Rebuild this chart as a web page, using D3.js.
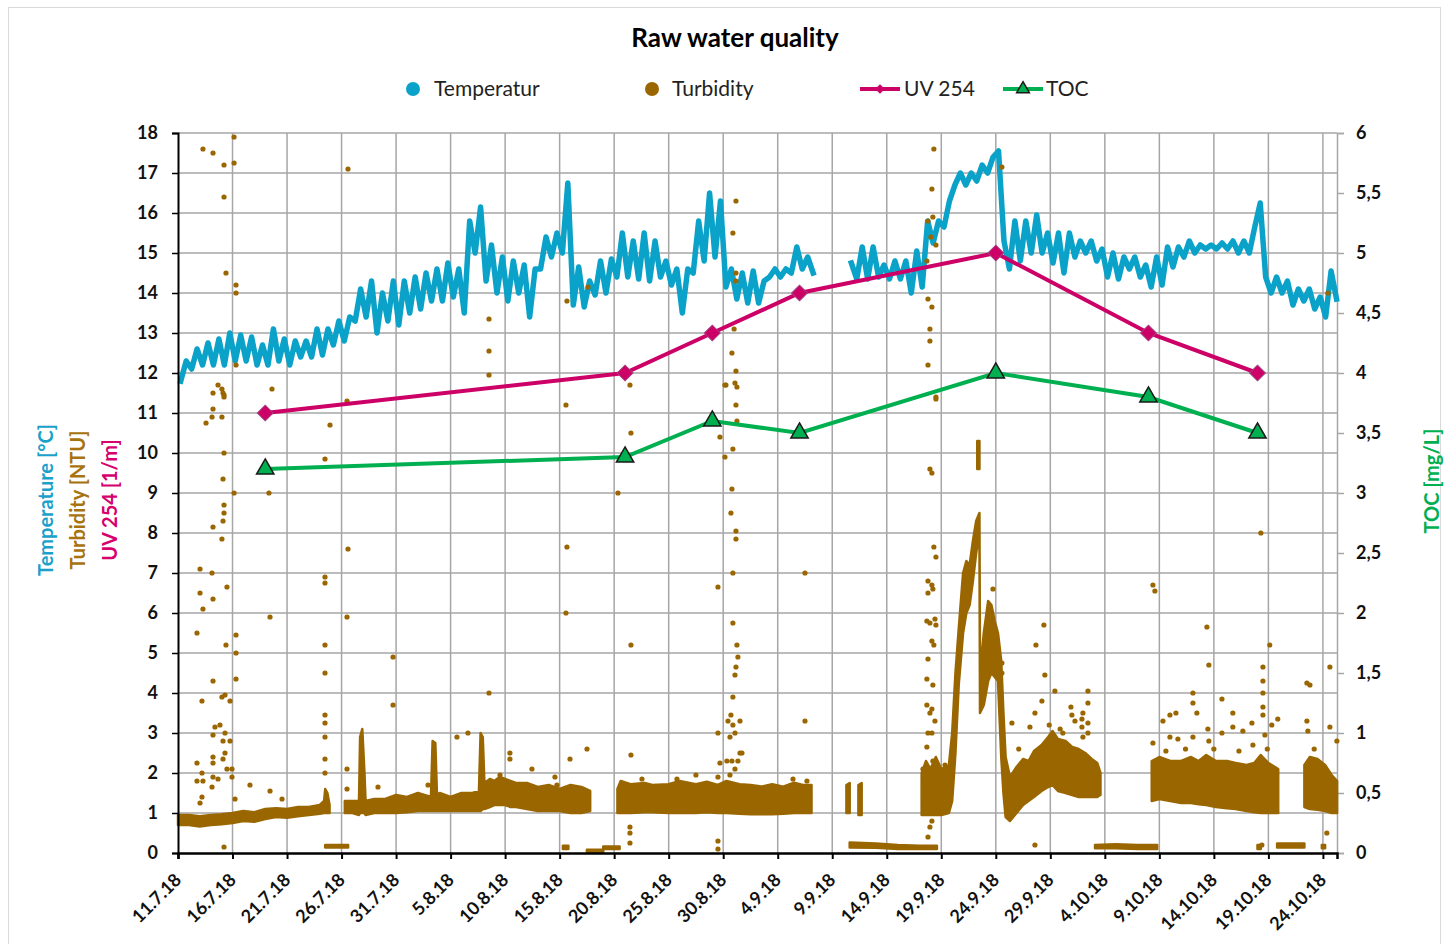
<!DOCTYPE html>
<html>
<head>
<meta charset="utf-8">
<script src="https://cdn.jsdelivr.net/npm/d3@7"></script>
<style>
  body { margin: 0; background: #fff; }
  svg { display: block; font-family: Lato, "Open Sans", sans-serif; }
  .grid line { stroke: #a6a6a6; stroke-width: 1.5; }
  .axis text { font-family: Lato, sans-serif; font-weight: bold; font-size: 18px; fill: #111; }
</style>
</head>
<body>
<svg id="chart" width="1445" height="944"></svg>
<script>
"use strict";

// x tick labels (every 5 days)
const xTickDates = ["2018-07-11","2018-07-16","2018-07-21","2018-07-26","2018-07-31","2018-08-05",
  "2018-08-10","2018-08-15","2018-08-20","2018-08-25","2018-08-30","2018-09-04","2018-09-09",
  "2018-09-14","2018-09-19","2018-09-24","2018-09-29","2018-10-04","2018-10-09","2018-10-14",
  "2018-10-19","2018-10-24"];
const leftTicks = [0,1,2,3,4,5,6,7,8,9,10,11,12,13,14,15,16,17,18];
const rightTicks = [0,0.5,1,1.5,2,2.5,3,3.5,4,4.5,5,5.5,6];

// Temperature: one reading every 12 h starting 11.7.18 06:00 (morning / evening)
const tempValues = [
  11.8,12.3, 12.1,12.6, 12.2,12.75, 12.2,12.85, 12.2,13.0, 12.3,12.95, 12.3,12.9,
  12.2,12.7, 12.2,13.1, 12.3,12.85, 12.2,12.8, 12.4,12.8, 12.4,13.1, 12.45,13.1,
  12.7,13.3, 12.8,13.4, 13.3,14.1, 13.4,14.3, 13.0,14.0, 13.3,14.3, 13.2,14.3,
  13.5,14.4, 13.6,14.5, 13.8,14.6, 13.8,14.75, 13.9,14.6, 13.5,15.8, 15.0,16.15,
  14.3,15.2, 14.0,14.9, 13.8,14.8, 14.0,14.7, 13.4,14.6, 14.6,15.4, 14.9,15.5,
  15.0,16.75, 13.7,14.65, 13.65,14.3, 13.95,14.8, 14.0,14.85, 14.4,15.5, 14.4,15.3,
  14.35,15.5, 14.3,15.3, 14.4,14.8, 14.2,14.6, 13.5,14.6, 14.5,15.8, 14.8,16.5,
  14.9,16.3, 14.15,14.6, 13.85,14.5, 13.75,14.55, 13.75,14.3, 14.4,14.6, 14.4,14.6,
  14.5,15.15, 14.6,14.9, 14.5,null, null,null, null,null, null,14.75, 14.35,15.15,
  14.35,15.15, 14.4,14.7, 14.35,14.8, 14.35,14.8, 14.0,15.05, 14.15,15.8, 15.25,15.8,
  15.65,16.3, 16.7,17.0, 16.7,17.0, 16.8,17.2, 17.0,17.4, 17.55,15.3, 14.6,15.8,
  14.8,15.8, 15.0,15.95, 15.0,15.5, 14.75,15.5, 14.5,15.5, 14.9,15.3, 15.0,15.3,
  14.8,15.1, 14.4,15.0, 14.35,14.9, 14.6,14.9, 14.4,14.7, 14.15,14.9, 14.2,15.15,
  14.65,15.15, 14.9,15.3, 15.0,15.2, 15.1,15.2, 15.1,15.25, 15.1,15.3, 15.0,15.3,
  15.0,15.65, 16.25,14.4, 14.0,14.4, 14.0,14.3, 13.7,14.1, 13.8,14.1, 13.6,13.9,
  13.4,14.55, 13.85
];

// Turbidity: dense logger band [day after 11.7.18, low, high], null = break
const turbBand = [
  [0,0.7,0.95],[1,0.7,0.95],[2,0.66,0.92],[3,0.7,0.95],[4,0.72,0.97],[5,0.75,1.0],[6,0.8,1.05],
  [7,0.78,1.02],[8,0.85,1.1],[9,0.9,1.12],[10,0.88,1.1],[11,0.92,1.15],[12,0.95,1.15],[13,0.98,1.2],
  [13.4,1.0,1.3],[13.5,1.0,1.6],[13.7,1.0,1.5],[13.9,1.0,1.2], null,
  [13.5,0.14,0.2],[15.6,0.14,0.2], null,
  [15.3,1.0,1.3],[16.0,1.0,1.3],[16.6,0.95,1.3],[16.7,1.0,2.9],[16.9,1.0,3.1],[17.1,1.0,2.0],
  [17.2,0.95,1.3],[18,1.0,1.35],[19,1.0,1.35],[20,1.0,1.45],[21,1.02,1.4],[22,1.05,1.5],
  [23.2,1.05,1.4],[23.35,1.05,2.8],[23.6,1.05,2.75],[23.75,1.05,1.45],[24,1.05,1.5],[25,1.05,1.4],
  [26,1.05,1.5],[27,1.05,1.5],[27.6,1.05,1.55],[27.75,1.05,3.0],[27.95,1.1,2.9],[28.1,1.1,1.75],
  [28.6,1.15,1.85],[29,1.2,1.8],[29.5,1.2,1.9],[30,1.2,1.85],[30.5,1.15,1.8],[31,1.15,1.75],
  [32,1.1,1.75],[33,1.05,1.65],[34,1.05,1.7],[35,1.05,1.6],[36,1.0,1.7],[37,1.0,1.65],
  [37.8,1.05,1.55], null,
  [35.3,0.1,0.18],[35.8,0.1,0.18], null,
  [37.5,0.03,0.08],[39.0,0.03,0.08], null,
  [39.0,0.1,0.16],[40.5,0.1,0.16], null,
  [40.3,1.0,1.6],[40.6,1.0,1.8],[41.5,1.0,1.72],[42.8,1.02,1.75],[43.5,1.02,1.7],[45,1.0,1.72],
  [46,1.0,1.8],[47.5,1.0,1.72],[48.5,1.02,1.78],[49.5,1.0,1.7],[50.3,1.0,1.8],[51.5,0.98,1.72],
  [52.5,0.97,1.7],[53.5,0.97,1.66],[54.5,0.97,1.72],[55.5,0.98,1.66],[56.5,1.0,1.76],[57.3,1.0,1.7],
  [58.1,1.0,1.7], null,
  [61.3,1.0,1.7],[61.6,1.0,1.75], null,
  [62.4,0.95,1.7],[62.7,0.95,1.75], null,
  [61.6,0.14,0.26],[64,0.13,0.24],[66,0.1,0.2],[68,0.1,0.18],[69.6,0.1,0.18], null,
  [68.2,0.95,2.0],[68.6,0.95,2.3],[69,0.95,2.1],[69.5,0.95,2.4],[70,0.95,2.1],[70.7,1.0,2.2],
  [71.0,1.3,3.0],[71.3,2.5,4.5],[71.6,4.2,5.6],[72.0,5.5,7.0],[72.3,6.0,7.3],[72.6,6.2,7.2],
  [72.9,6.8,7.8],[73.2,7.5,8.3],[73.5,8.0,8.5],[73.55,3.5,4.5],[73.9,3.7,5.5],[74.3,4.3,6.3],
  [74.6,4.5,6.2],[74.9,4.4,5.8],[75.2,4.3,5.5],[75.5,2.4,4.8],[75.7,1.5,3.5],[75.9,0.9,2.4],
  [76.3,0.8,1.9],[76.9,1.0,2.15],[77.5,1.2,2.35],[78.0,1.3,2.3],[78.5,1.4,2.55],[79.2,1.55,2.7],
  [79.8,1.65,2.9],[80.2,1.7,3.05],[80.7,1.55,2.85],[81.4,1.5,2.8],[82.0,1.45,2.65],
  [82.6,1.4,2.6],[83.2,1.4,2.5],[83.8,1.4,2.35],[84.3,1.4,2.25],[84.6,1.45,2.0], null,
  [73.3,9.6,10.3],[73.5,9.6,10.3], null,
  [84.1,0.12,0.2],[86,0.12,0.22],[88,0.1,0.2],[89.8,0.1,0.2], null,
  [89.3,1.3,2.3],[90.0,1.35,2.4],[91.0,1.3,2.3],[92.0,1.25,2.3],[92.9,1.25,2.4],[93.6,1.22,2.3],
  [94.3,1.2,2.45],[95.2,1.15,2.3],[96.2,1.12,2.3],[97.0,1.1,2.25],[98.0,1.05,2.2],[98.7,1.02,2.25],
  [99.3,1.0,2.45],[100.0,1.0,2.25],[100.9,1.0,2.1], null,
  [99.0,0.1,0.2],[99.3,0.1,0.2], null,
  [100.8,0.14,0.24],[103.3,0.14,0.24], null,
  [104.9,0.12,0.2],[105.2,0.12,0.2], null,
  [103.3,1.15,2.2],[103.8,1.1,2.4],[104.5,1.08,2.35],[105.2,1.05,2.2],[105.8,1.0,1.95],[106.3,1.0,1.8]
];

// Turbidity: scattered single readings [day after 11.7.18, NTU]
const turbSpikes = [
  [2.29,17.6],[3.21,17.5],[4.22,17.2],[5.14,17.9],[5.14,17.25],[4.22,16.4],[4.4,14.5],[5.32,14.2],
  [5.32,14.0],[5.32,12.2],[3.67,11.7],[3.21,11.5],[4.13,11.5],[4.03,11.6],[4.22,11.45],[4.22,11.4],
  [3.21,11.1],[4.03,10.9],[3.12,10.9],[2.57,10.75],[4.22,10.0],[4.13,9.35],[5.14,9.0],[4.22,8.7],
  [4.22,8.5],[4.13,8.3],[3.21,8.15],[4.03,7.85],[2.02,7.1],[3.12,7.0],[4.49,6.65],[2.02,6.5],
  [3.21,6.35],[2.29,6.1],[1.74,5.5],[5.32,5.45],[4.4,5.2],[5.32,5.0],[5.32,4.35],[3.21,4.3],
  [2.2,3.8],[4.77,3.8],[4.03,3.9],[4.31,3.95],[3.85,3.2],[3.39,3.15],[3.21,2.95],[4.31,3.0],
  [4.13,2.8],[4.77,2.8],[3.21,2.4],[4.31,2.5],[4.13,2.35],[3.21,2.25],[1.74,2.25],[4.49,2.1],
  [4.95,2.1],[2.2,2.0],[2.29,1.8],[1.74,1.8],[3.21,1.9],[3.67,1.85],[4.95,1.9],[3.12,1.65],
  [2.2,1.4],[2.02,1.25],[5.23,1.35],[6.6,1.7],[8.44,1.55],[9.54,1.35],[4.22,0.15],
  [8.62,11.6],[8.34,9.0],[8.44,5.9],[15.59,17.1],[15.5,11.3],[13.94,10.7],[13.48,9.85],[15.59,7.6],
  [13.48,6.9],[13.48,6.75],[15.5,5.9],[13.48,5.2],[19.72,4.9],[13.48,4.5],[13.48,3.45],[13.48,3.25],
  [13.48,2.9],[13.48,2.35],[13.48,2.0],[15.5,2.1],[15.5,1.6],[18.34,1.65],[19.72,3.7],[25.58,2.9],
  [26.59,3.0],[28.52,4.0],[28.52,13.35],[28.52,12.55],[28.52,11.95],[30.44,2.5],[30.44,2.35],
  [32.46,2.1],[34.57,1.9],[35.95,2.35],[37.51,2.6],[29.53,1.95],[34.75,1.7],[22.93,1.7],[35.58,11.2],
  [35.67,7.65],[35.58,6.0],[35.67,13.8],[37.6,14.15],
  [41.45,11.7],[41.54,10.5],[40.35,9.0],[41.54,5.2],[41.54,2.45],[41.45,0.65],[41.45,0.5],
  [41.45,0.25],[42.55,1.85],[45.76,1.85],[47.5,1.95],
  [50.25,11.7],[51.08,11.75],[51.26,11.65],[51.17,11.2],[51.26,10.8],[49.7,10.4],[50.89,10.1],
  [50.16,9.9],[50.8,9.1],[50.71,8.5],[51.17,8.05],[51.17,7.85],[50.89,7.0],[49.52,6.65],[50.89,5.75],
  [51.26,5.2],[51.35,4.9],[51.17,4.65],[51.08,4.45],[51.17,16.3],[50.89,15.5],[51.17,14.5],
  [51.17,14.3],[51.0,13.1],[50.8,12.5],[51.17,12.05],[50.16,11.7],[50.89,3.9],[50.71,3.45],
  [51.54,3.3],[50.89,3.2],[50.44,3.3],[50.62,2.9],[51.08,3.0],[51.54,2.5],[51.72,2.5],[50.34,2.3],
  [50.8,2.3],[51.35,2.3],[51.08,2.1],[50.62,1.95],[49.52,3.0],[49.7,2.25],[49.52,1.9],[49.52,0.3],
  [49.52,0.1],[57.5,7.0],[57.5,3.3],[57.68,1.8],[56.4,1.85],
  [69.32,17.6],[69.14,16.6],[69.23,15.9],[68.78,15.8],[69.05,15.4],[69.51,15.2],[68.68,14.8],
  [68.78,13.85],[69.14,13.65],[68.96,13.1],[68.96,12.8],[68.78,12.2],[69.51,11.4],[69.51,11.35],
  [68.96,9.6],[69.14,9.5],[69.32,7.65],[69.51,7.4],[68.78,6.8],[69.14,6.7],[68.78,6.5],[69.23,6.6],
  [68.68,5.8],[68.96,5.75],[69.42,5.85],[69.51,5.7],[69.14,5.3],[69.32,5.2],[68.78,4.85],
  [68.68,4.35],[69.23,4.2],[68.68,3.7],[69.14,3.6],[68.96,3.5],[69.42,3.3],[68.78,3.0],[69.14,3.0],
  [68.68,2.65],[69.23,2.3],[70.34,2.2],[68.32,2.1],[69.14,0.8],[68.96,0.65],[68.78,0.4],
  [74.74,6.6],[75.56,17.15],[75.56,4.75],[75.56,4.5],[76.48,3.25],[79.41,5.7],[78.68,5.2],
  [79.5,4.45],[79.23,3.8],[80.42,4.05],[78.59,3.5],[78.13,3.15],[81.89,3.65],[81.98,3.45],
  [82.26,3.3],[82.99,3.5],[83.45,4.05],[83.45,3.75],[82.9,3.35],[83.45,3.25],[82.9,3.15],
  [83.45,3.0],[82.99,2.9],[81.15,3.0],[81.06,2.6],[78.59,0.2],[77.1,2.6],[79.9,3.2],[80.9,3.1],
  [89.41,6.7],[89.59,6.55],[89.41,2.75],[90.33,3.3],[90.97,3.45],[91.52,3.5],[90.97,2.9],
  [91.7,2.85],[93.08,4.0],[93.08,3.75],[93.44,3.5],[93.08,2.9],[94.36,5.65],[94.54,4.7],
  [94.45,3.1],[94.54,2.8],[95.74,3.85],[95.74,3.0],[96.74,3.5],[96.74,3.15],[97.66,3.05],
  [98.49,3.25],[98.58,2.7],[99.31,8.0],[100.13,5.2],[99.5,4.65],[99.5,4.3],[99.5,4.0],[99.5,3.65],
  [99.5,3.45],[99.68,2.95],[100.31,3.2],[100.86,3.35],[99.4,0.2],[90.6,2.55],[92.4,2.6],
  [95.0,2.6],[97.3,2.55],[99.9,2.6],
  [103.53,4.25],[103.81,4.2],[103.53,3.3],[103.62,3.05],[105.64,4.65],[105.46,14.0],[105.64,3.15],
  [106.28,2.8],[105.36,0.5],[104.2,2.6]
];

// Lab samples
const sampleDates = ["2018-07-19","2018-08-21","2018-08-29","2018-09-06","2018-09-24","2018-10-08","2018-10-18"];
const uvValues = [11, 12, 13, 14, 15, 13, 12];
const tocValues = [3.2, 3.3, 3.6, 3.5, 4.0, 3.8, 3.5];

const colTemp = "#0aa2c8", colTurb = "#996600", colUV = "#cc0066", colTOC = "#00b050";

const svg = d3.select("#chart");
const plot = {left: 178, right: 1337, top: 133, bottom: 853};

const t0 = Date.UTC(2018, 6, 11);
const dayToDate = d => new Date(t0 + d * 864e5);
const parse = d3.utcParse("%Y-%m-%d");

const x = d3.scaleUtc()
  .domain([new Date(t0), new Date(Date.UTC(2018, 9, 25, 7))])
  .range([plot.left, plot.right]);
const yL = d3.scaleLinear().domain([0, 18]).range([plot.bottom, plot.top]);
const yR = d3.scaleLinear().domain([0, 6]).range([plot.bottom, plot.top]);

// chart frame
svg.append("rect")
  .attr("x", 8.5).attr("y", 7.5).attr("width", 1432).attr("height", 945)
  .attr("fill", "#fff").attr("stroke", "#d9d9d9").attr("stroke-width", 1);

// grid
const xTicks = xTickDates.map(parse);
const grid = svg.append("g").attr("class", "grid");
grid.selectAll("line.h").data(leftTicks.slice(1)).join("line").attr("class", "h")
  .attr("x1", plot.left).attr("x2", plot.right)
  .attr("y1", d => yL(d)).attr("y2", d => yL(d));
grid.selectAll("line.v").data(xTicks.slice(1)).join("line").attr("class", "v")
  .attr("x1", d => x(d)).attr("x2", d => x(d))
  .attr("y1", plot.top).attr("y2", plot.bottom);

// right axis (TOC)
const fmtComma = d => String(d).replace(".", ",");
const axR = svg.append("g").attr("class", "axis")
  .attr("transform", `translate(${plot.right},0)`)
  .call(d3.axisRight(yR).tickValues(rightTicks).tickSize(7).tickPadding(12).tickFormat(fmtComma));
axR.select(".domain").attr("stroke", "#a6a6a6").attr("stroke-width", 1.5);
axR.selectAll(".tick line").attr("stroke", "#a6a6a6").attr("stroke-width", 1.5);

// temperature
const tempPts = tempValues.map((v, i) => ({t: dayToDate(0.25 + i * 0.5), v: v}));
svg.append("path")
  .datum(tempPts)
  .attr("fill", "none").attr("stroke", colTemp).attr("stroke-width", 5.5)
  .attr("stroke-linejoin", "round").attr("stroke-linecap", "square")
  .attr("d", d3.line().defined(d => d.v != null).x(d => x(d.t)).y(d => yL(d.v)));

// turbidity band segments
const segments = [];
let cur = [];
for (const r of turbBand) {
  if (r === null) { if (cur.length) segments.push(cur); cur = []; }
  else cur.push(r);
}
if (cur.length) segments.push(cur);

const turbArea = d3.area()
  .x(d => x(dayToDate(d[0])))
  .y0(d => yL(d[1]))
  .y1(d => yL(d[2]));
svg.append("g").selectAll("path").data(segments).join("path")
  .attr("fill", colTurb).attr("stroke", colTurb).attr("stroke-width", 2.5)
  .attr("stroke-linejoin", "round")
  .attr("d", turbArea);

svg.append("g").selectAll("circle").data(turbSpikes).join("circle")
  .attr("cx", d => x(dayToDate(d[0]))).attr("cy", d => yL(d[1]))
  .attr("r", 2.6).attr("fill", colTurb);

// UV 254
const samples = sampleDates.map((d, i) => ({t: parse(d), uv: uvValues[i], toc: tocValues[i]}));
svg.append("path").datum(samples)
  .attr("fill", "none").attr("stroke", colUV).attr("stroke-width", 4)
  .attr("d", d3.line().x(d => x(d.t)).y(d => yL(d.uv)));
svg.append("g").selectAll("path").data(samples).join("path")
  .attr("transform", d => `translate(${x(d.t)},${yL(d.uv)}) rotate(45)`)
  .attr("d", d3.symbol(d3.symbolSquare, 125)())
  .attr("fill", colUV).attr("stroke", "#a04080").attr("stroke-width", 1);

// TOC
svg.append("path").datum(samples)
  .attr("fill", "none").attr("stroke", colTOC).attr("stroke-width", 4)
  .attr("d", d3.line().x(d => x(d.t)).y(d => yR(d.toc)));
svg.append("g").selectAll("path").data(samples).join("path")
  .attr("transform", d => `translate(${x(d.t)},${yR(d.toc)})`)
  .attr("d", d3.symbol(d3.symbolTriangle, 130)())
  .attr("fill", colTOC).attr("stroke", "#1a1a1a").attr("stroke-width", 1.5);

// left axis
const axL = svg.append("g").attr("class", "axis")
  .attr("transform", `translate(${plot.left},0)`)
  .call(d3.axisLeft(yL).tickValues(leftTicks).tickSize(6).tickPadding(14));
axL.select(".domain").attr("stroke", "#000").attr("stroke-width", 2);
axL.selectAll(".tick line").attr("stroke", "#000").attr("stroke-width", 1.5);

// bottom axis
const fmtDate = d3.utcFormat("%-d.%-m.%y");
const axB = svg.append("g").attr("class", "axis")
  .attr("transform", `translate(0,${plot.bottom})`)
  .call(d3.axisBottom(x).tickValues(xTicks).tickSize(6).tickFormat(fmtDate));
axB.select(".domain").attr("stroke", "#000").attr("stroke-width", 2.5);
axB.selectAll(".tick line").attr("stroke", "#000").attr("stroke-width", 2);
axB.selectAll(".tick text")
  .attr("text-anchor", "end").attr("dy", null).attr("y", null)
  .attr("transform", "translate(4,28) rotate(-45)");

// title
svg.append("text")
  .attr("x", 735).attr("y", 47).attr("text-anchor", "middle")
  .style("font-size", "26px").style("font-weight", "bold").attr("fill", "#000")
  .text("Raw water quality");

// legend
const leg = svg.append("g").style("font-size", "21px").attr("fill", "#222");
leg.append("circle").attr("cx", 413).attr("cy", 89).attr("r", 7).attr("fill", colTemp);
leg.append("text").attr("x", 434).attr("y", 96).text("Temperatur");
leg.append("circle").attr("cx", 652).attr("cy", 89).attr("r", 7).attr("fill", colTurb);
leg.append("text").attr("x", 672).attr("y", 96).text("Turbidity");
leg.append("line").attr("x1", 860).attr("x2", 900).attr("y1", 89).attr("y2", 89)
  .attr("stroke", colUV).attr("stroke-width", 4);
leg.append("path").attr("transform", "translate(880,89) rotate(45)")
  .attr("d", d3.symbol(d3.symbolSquare, 45)()).attr("fill", colUV);
leg.append("text").attr("x", 904).attr("y", 96).text("UV 254");
leg.append("line").attr("x1", 1003).attr("x2", 1043).attr("y1", 89).attr("y2", 89)
  .attr("stroke", colTOC).attr("stroke-width", 4);
leg.append("path").attr("transform", "translate(1023,89)")
  .attr("d", d3.symbol(d3.symbolTriangle, 70)()).attr("fill", colTOC)
  .attr("stroke", "#1a1a1a").attr("stroke-width", 1.5);
leg.append("text").attr("x", 1046).attr("y", 96).text("TOC");

// axis titles
const yTitles = [
  {text: "Temperature [°C]", x: 53, color: "#1ba1c9"},
  {text: "Turbidity [NTU]", x: 85, color: "#a7730f"},
  {text: "UV 254 [1/m]", x: 117, color: "#d6006e"}
];
svg.append("g").selectAll("text").data(yTitles).join("text")
  .attr("transform", d => `translate(${d.x},500) rotate(-90)`)
  .attr("text-anchor", "middle")
  .style("font-size", "20px").style("font-weight", "bold")
  .attr("fill", d => d.color)
  .text(d => d.text);

svg.append("text")
  .attr("transform", "translate(1439,481) rotate(-90)")
  .attr("text-anchor", "middle")
  .style("font-size", "20px").style("font-weight", "bold")
  .attr("fill", colTOC)
  .text("TOC [mg/L]");
</script>
</body>
</html>
